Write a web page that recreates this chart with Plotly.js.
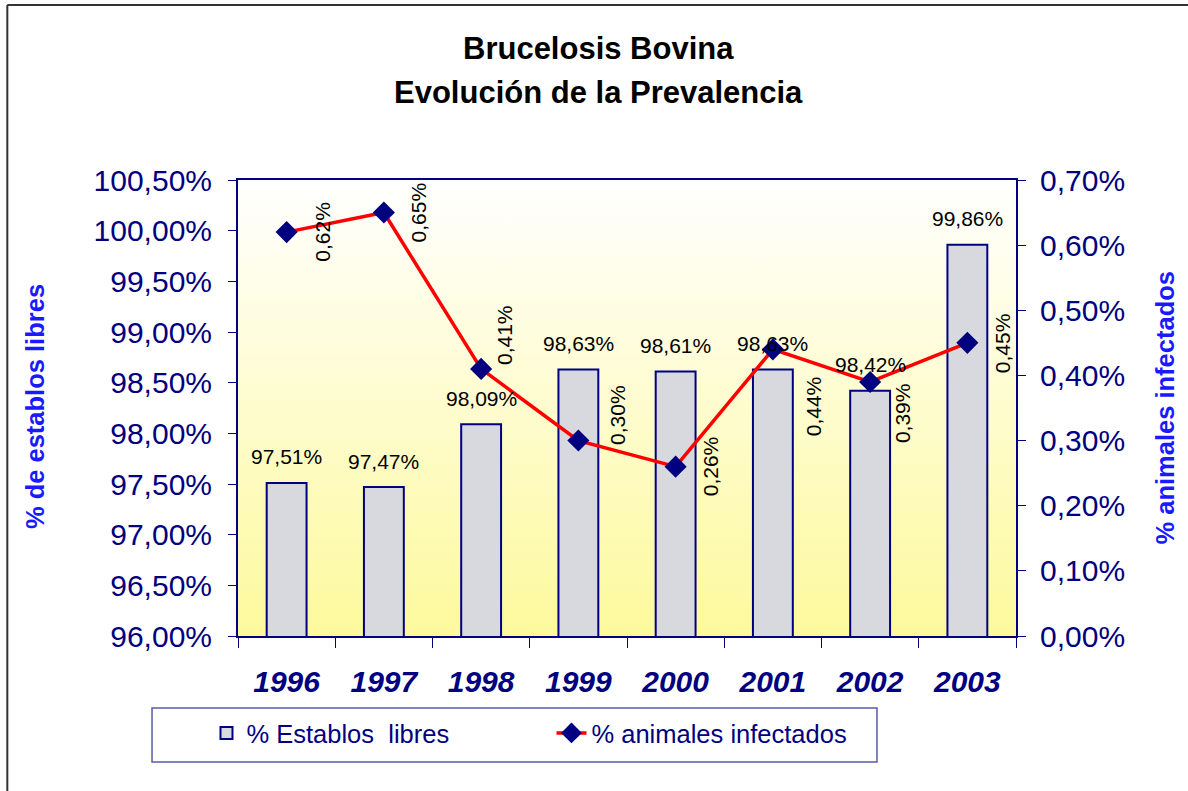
<!DOCTYPE html>
<html>
<head>
<meta charset="utf-8">
<script src="https://cdn.plot.ly/plotly-3.0.1.min.js"></script>
<style>
  html, body { margin: 0; padding: 0; background: #ffffff; }
  #chart { width: 1188px; height: 791px; }
</style>
</head>
<body>
<div id="chart"></div>
<script>
// ---- data ----
var years = ['1996', '1997', '1998', '1999', '2000', '2001', '2002', '2003'];
var establosLibres = [0.9751, 0.9747, 0.9809, 0.9863, 0.9861, 0.9863, 0.9842, 0.9986];
var animalesInfectados = [0.0062, 0.0065, 0.0041, 0.0030, 0.0026, 0.0044, 0.0039, 0.0045];
var seriesNames = ['% Establos\u00a0\u00a0libres', '% animales infectados'];
var titleLines = ['Brucelosis Bovina', 'Evoluci\u00f3n de la Prevalencia'];
var yTitleLeft = '% de establos libres';
var yTitleRight = '% animales infectados';

// ---- label offsets (styling only, pixels) ----
var lineLabelDx = [35, 35, 24, 39, 35, 40, 33, 35];
var lineLabelDy = [0, 0, 34, 26, 0, -57, -31, 0];

function pct(v) { return (v * 100).toFixed(2).replace('.', ',') + '%'; }

var FONT = 'Liberation Sans, Arial, Helvetica, sans-serif';
var NAVY = '#000080';

var bars = {
  type: 'bar',
  name: seriesNames[0],
  x: years,
  y: establosLibres,
  width: 0.41,
  marker: { color: '#d8d9df', line: { color: NAVY, width: 2 } },
  hoverinfo: 'x+y'
};

var line = {
  type: 'scatter',
  mode: 'lines+markers',
  name: seriesNames[1],
  x: years,
  y: animalesInfectados,
  yaxis: 'y2',
  line: { color: '#ff0000', width: 3.5 },
  marker: { symbol: 'diamond', size: 17, color: NAVY },
  cliponaxis: false
};

var annotations = [];
years.forEach(function (yr, i) {
  // category axis: position by category index
  annotations.push({
    x: i, y: establosLibres[i], xref: 'x', yref: 'y',
    text: pct(establosLibres[i]), showarrow: false,
    xanchor: 'center', yanchor: 'middle', yshift: 26,
    font: { family: FONT, size: 21, color: '#000000' }
  });
  annotations.push({
    x: i, y: animalesInfectados[i], xref: 'x', yref: 'y2',
    text: pct(animalesInfectados[i]), showarrow: false, textangle: -90,
    xanchor: 'center', yanchor: 'middle',
    xshift: lineLabelDx[i], yshift: lineLabelDy[i],
    font: { family: FONT, size: 21, color: '#000000' }
  });
});

// titles
annotations.push({ xref: 'paper', yref: 'paper', x: 0.463, y: 1.289, text: '<b>' + titleLines[0] + '</b>',
  showarrow: false, xanchor: 'center', yanchor: 'middle', font: { family: FONT, size: 31, color: '#000000' } });
annotations.push({ xref: 'paper', yref: 'paper', x: 0.463, y: 1.191, text: '<b>' + titleLines[1] + '</b>',
  showarrow: false, xanchor: 'center', yanchor: 'middle', font: { family: FONT, size: 31, color: '#000000' } });
// axis titles
annotations.push({ xref: 'paper', yref: 'paper', x: -0.261, y: 0.504, text: '<b>' + yTitleLeft + '</b>', textangle: -90,
  showarrow: false, xanchor: 'center', yanchor: 'middle', font: { family: FONT, size: 25.5, color: '#1a1aff' } });
annotations.push({ xref: 'paper', yref: 'paper', x: 1.1915, y: 0.501, text: '<b>' + yTitleRight + '</b>', textangle: -90,
  showarrow: false, xanchor: 'center', yanchor: 'middle', font: { family: FONT, size: 25.5, color: '#1a1aff' } });

var gradSvg = '<svg xmlns="http://www.w3.org/2000/svg" width="100" height="100" preserveAspectRatio="none">' +
  '<defs><linearGradient id="g" x1="0" y1="0" x2="0" y2="1">' +
  '<stop offset="0" stop-color="#ffffff"/><stop offset="1" stop-color="#fdf99c"/>' +
  '</linearGradient></defs><rect width="100" height="100" fill="url(#g)"/></svg>';

var layout = {
  width: 1188, height: 791,
  margin: { l: 238, r: 172, t: 180, b: 155 },
  paper_bgcolor: '#ffffff',
  plot_bgcolor: 'rgba(0,0,0,0)',
  separators: ',.',
  font: { family: FONT, color: NAVY },
  showlegend: true,
  xaxis: {
    type: 'category',
    range: [-0.5, 7.5],
    showline: true, linecolor: NAVY, linewidth: 2, mirror: true,
    ticks: 'outside', tickson: 'boundaries', ticklen: 10, tickcolor: NAVY, tickwidth: 1,
    tickfont: { family: FONT, size: 30, color: NAVY, weight: 'bold', style: 'italic' },
    ticklabelstandoff: 18,
    showgrid: false, zeroline: false, fixedrange: true
  },
  yaxis: {
    range: [0.96, 1.005], dtick: 0.005, tick0: 0.96, tickformat: '.2%',
    showline: true, linecolor: NAVY, linewidth: 2,
    ticks: 'outside', ticklen: 8, tickcolor: NAVY, tickwidth: 1,
    tickfont: { family: FONT, size: 30, color: NAVY },
    ticklabelstandoff: 10,
    showgrid: false, zeroline: false, fixedrange: true
  },
  yaxis2: {
    overlaying: 'y', side: 'right',
    range: [0, 0.007], dtick: 0.001, tick0: 0, tickformat: '.2%',
    showline: true, linecolor: NAVY, linewidth: 2,
    ticks: 'outside', ticklen: 8, tickcolor: NAVY, tickwidth: 1,
    tickfont: { family: FONT, size: 30, color: NAVY },
    ticklabelstandoff: 8,
    showgrid: false, zeroline: false, fixedrange: true
  },
  legend: {
    orientation: 'h', x: -0.0405, y: -0.162, xanchor: 'left', yanchor: 'top',
    bgcolor: 'rgba(0,0,0,0)', borderwidth: 0,
    font: { family: FONT, size: 25.5, color: NAVY },
    entrywidth: 300, traceorder: 'normal'
  },
  images: [{
    source: 'data:image/svg+xml;charset=utf-8,' + encodeURIComponent(gradSvg),
    xref: 'paper', yref: 'paper', x: 0, y: 1, sizex: 1, sizey: 1,
    xanchor: 'left', yanchor: 'top', sizing: 'stretch', layer: 'below'
  }],
  shapes: [
    { type: 'line', xref: 'paper', yref: 'paper', x0: -0.2965, x1: -0.2965, y0: 1.3838, y1: -0.36,
      line: { color: '#333333', width: 2 } },
    { type: 'line', xref: 'paper', yref: 'paper', x0: -0.2965, x1: 1.25, y0: 1.3838, y1: 1.3838,
      line: { color: '#333333', width: 2 } },
    // legend frame
    { type: 'rect', xref: 'paper', yref: 'paper', x0: -0.1105, x1: 0.8213, y0: -0.1579, y1: -0.2763,
      line: { color: '#5a5aa8', width: 1.5 }, fillcolor: 'rgba(0,0,0,0)' }
  ],
  annotations: annotations
};

Plotly.newPlot('chart', [bars, line], layout, { displayModeBar: false, staticPlot: true });
</script>
</body>
</html>
